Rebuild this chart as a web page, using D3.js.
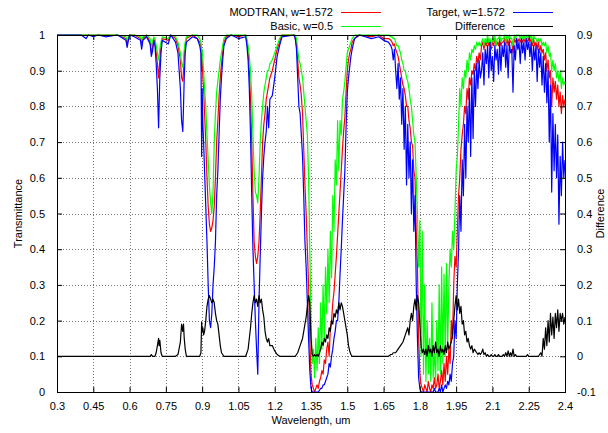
<!DOCTYPE html>
<html>
<head>
<meta charset="utf-8">
<script src="https://cdn.jsdelivr.net/npm/d3@7"></script>
<style>
  body { margin: 0; background: #fff; }
  svg text { font-family: "Liberation Sans", Arial, sans-serif; font-size: 11px; fill: #000; }
</style>
</head>
<body>
<svg id="chart" width="608" height="433"></svg>
<script>
// wavelength grid, um
var wavelength = [
  0.30,0.40,0.42,0.43,0.45,0.47,0.50,0.55,0.585,0.59,0.595,0.60,0.62,0.645,0.65,0.655,0.67,0.685,0.69,0.695,0.70,
  0.705,0.71,0.715,0.72,0.722,0.725,0.73,0.735,0.76,0.77,0.79,0.80,0.81,0.815,0.82,0.823,0.826,0.83,0.835,0.86,0.88,0.89,
  0.895,0.898,0.90,0.903,0.906,0.91,0.915,0.92,0.925,0.93,0.935,0.94,0.945,0.95,0.955,0.96,0.965,0.97,0.975,0.98,0.985,0.99,1.00,
  1.02,1.05,1.08,1.085,1.09,1.095,1.10,1.105,1.11,1.115,1.12,1.125,1.13,1.135,1.14,1.145,1.15,1.155,1.16,1.165,1.17,1.175,1.18,1.19,1.20,1.21,1.22,1.23,1.28,
  1.285,1.29,1.295,1.30,1.305,1.31,1.315,1.32,1.325,1.33,1.335,1.34,1.345,1.35,1.355,
  1.36,1.365,1.37,1.375,1.38,1.385,1.39,1.395,1.40,1.405,1.41,1.415,1.42,1.425,1.43,1.435,1.44,1.445,1.45,1.455,
  1.46,1.465,1.47,1.475,1.48,1.485,1.49,1.495,1.50,1.505,1.51,1.515,1.52,1.53,
  1.55,1.60,1.63,1.65,1.67,1.68,
  1.685,1.69,1.695,1.70,1.705,1.71,1.715,1.72,1.725,1.73,1.735,1.74,1.745,1.75,1.755,1.76,1.765,1.77,1.775,1.78,
  1.785,1.79,1.795,1.80,1.805,1.81,1.815,1.82,1.825,1.83,1.835,1.84,1.845,1.85,1.855,1.86,1.865,1.87,1.875,1.88,
  1.885,1.89,1.895,1.90,1.905,1.91,1.915,1.92,1.925,1.93,1.935,1.94,1.945,1.95,1.955,1.96,1.965,1.97,1.975,1.98,
  1.985,1.99,1.995,2.00,2.005,2.01,2.015,2.02,2.025,2.03,2.035,2.04,2.045,2.05,
  2.055,2.06,2.065,2.07,2.075,2.08,2.085,2.09,2.095,2.10,2.105,2.11,2.115,2.12,2.125,2.13,2.135,2.14,2.145,2.15,
  2.155,2.16,2.165,2.17,2.175,2.18,2.185,2.19,2.195,2.20,2.205,2.21,2.215,2.22,2.225,2.23,2.235,2.24,2.245,2.25,
  2.255,2.26,2.265,2.27,2.275,2.28,2.285,2.29,2.295,2.30,2.305,2.31,2.315,2.32,2.325,2.33,2.335,2.34,2.345,2.35,
  2.355,2.36,2.365,2.37,2.375,2.38,2.385,2.39,2.395,2.40
];

// MODTRAN, w=1.572 (red)
var modtran = [
  1,1,1,1,1,1,1,1,0.99,0.975,0.99,1,1,0.99,0.975,0.99,1,0.98,0.95,0.965,0.99,
  0.98,0.95,0.92,0.88,0.9,0.93,0.97,0.99,0.985,1,0.99,0.97,0.93,0.88,0.87,0.9,0.94,0.97,0.99,1,0.99,0.98,
  0.97,0.9,0.93,0.88,0.85,0.78,0.7,0.6,0.52,0.47,0.45,0.46,0.48,0.52,0.6,0.7,0.76,0.83,0.88,0.92,0.95,0.98,0.995,
  1,0.995,1,0.98,0.95,0.9,0.82,0.7,0.55,0.42,0.38,0.36,0.38,0.42,0.5,0.6,0.7,0.75,0.78,0.82,0.84,0.86,0.88,0.9,0.93,0.96,0.98,1,1,
  0.99,0.97,0.93,0.88,0.86,0.83,0.78,0.68,0.58,0.5,0.4,0.3,0.15,0.05,0.02,
  0.01,0,0.01,0.02,0.01,0.03,0.04,0.06,0.05,0.09,0.08,0.12,0.14,0.1,0.18,0.2,0.25,0.28,0.33,0.38,
  0.44,0.5,0.56,0.62,0.68,0.73,0.77,0.84,0.9,0.93,0.95,0.96,0.98,0.99,
  1,0.995,1,0.99,0.99,0.985,
  0.98,0.97,0.975,0.96,0.95,0.94,0.92,0.9,0.88,0.86,0.85,0.83,0.8,0.8,0.76,0.74,0.7,0.69,0.62,0.6,
  0.45,0.35,0.15,0.05,0.02,0.01,0,0.02,0.01,0,0.03,0.01,0,0.02,0.01,0.04,0.01,0.02,0.05,0.01,
  0.03,0.06,0.02,0.08,0.03,0.1,0.05,0.12,0.08,0.2,0.15,0.3,0.38,0.35,0.45,0.55,0.6,0.68,0.72,0.75,
  0.8,0.78,0.85,0.82,0.88,0.86,0.9,0.89,0.92,0.9,0.94,0.92,0.95,0.93,
  0.97,0.98,0.96,0.98,0.97,0.99,0.97,0.98,0.96,0.98,0.97,0.99,0.97,0.98,0.97,0.99,0.97,0.98,0.98,0.99,
  0.97,0.99,0.97,0.99,0.98,0.98,0.95,0.99,0.98,0.99,0.98,0.99,0.98,0.99,0.98,0.99,0.98,0.99,0.98,0.99,
  0.98,0.99,0.97,0.99,0.97,0.98,0.96,0.98,0.95,0.97,0.95,0.96,0.93,0.95,0.9,0.93,0.88,0.9,0.8,0.88,
  0.84,0.87,0.82,0.86,0.8,0.84,0.78,0.83,0.8,0.82
];

// Basic, w=0.5 (green)
var basic = [
  1,1,1,1,1,1,1,1,0.995,0.985,0.995,1,1,0.995,0.985,0.995,1,0.99,0.97,0.98,0.995,
  0.99,0.97,0.95,0.93,0.94,0.96,0.98,0.995,0.99,1,0.995,0.98,0.95,0.92,0.91,0.93,0.96,0.98,0.995,1,1,0.99,
  0.98,0.95,0.96,0.93,0.9,0.85,0.8,0.72,0.65,0.58,0.53,0.5,0.56,0.7,0.78,0.84,0.87,0.9,0.93,0.95,0.97,0.99,1,
  1,1,1,0.99,0.97,0.94,0.9,0.83,0.72,0.62,0.56,0.55,0.53,0.6,0.7,0.76,0.8,0.84,0.86,0.88,0.9,0.9,0.92,0.93,0.95,0.97,0.99,1,1,
  1,0.99,0.96,0.93,0.92,0.9,0.88,0.84,0.8,0.76,0.72,0.6,0.4,0.2,0.08,
  0.12,0.04,0.15,0.06,0.18,0.08,0.25,0.12,0.3,0.15,0.35,0.22,0.4,0.25,0.45,0.32,0.55,0.45,0.65,0.58,
  0.76,0.62,0.76,0.72,0.82,0.84,0.87,0.91,0.95,0.96,0.97,0.98,0.99,1,
  1,1,1,1,1,0.995,
  0.995,0.99,0.99,0.98,0.97,0.97,0.96,0.95,0.93,0.92,0.9,0.9,0.88,0.87,0.85,0.82,0.8,0.76,0.72,0.7,
  0.6,0.5,0.35,0.48,0.1,0.45,0.05,0.3,0.03,0.2,0.05,0.15,0.03,0.25,0.04,0.12,0.03,0.2,0.06,0.3,
  0.05,0.35,0.08,0.33,0.1,0.36,0.12,0.3,0.4,0.35,0.45,0.4,0.5,0.62,0.66,0.75,0.85,0.8,0.88,0.85,
  0.9,0.88,0.93,0.9,0.95,0.93,0.96,0.95,0.97,0.96,0.98,0.97,0.98,0.97,
  0.98,0.99,0.97,0.99,0.98,1,0.98,0.99,0.97,0.99,0.98,1,0.97,0.99,0.99,1,0.98,0.99,0.99,1,
  0.98,1,0.99,1,0.99,0.99,0.97,1,0.99,1,1,1,0.99,1,0.99,1,0.99,1,0.99,1,
  0.99,1,0.98,1,0.99,0.99,0.98,0.99,0.98,0.99,0.97,0.98,0.97,0.98,0.95,0.97,0.94,0.95,0.9,0.93,
  0.9,0.92,0.88,0.9,0.87,0.9,0.85,0.88,0.86,0.87
];

// Target, w=1.572 (blue)
var target = [
  1,1,0.99,1,0.995,1,0.995,1,0.985,0.965,0.985,1,0.995,0.985,0.96,0.985,0.995,0.975,0.94,0.955,0.985,
  0.97,0.92,0.85,0.74,0.8,0.88,0.95,0.985,0.975,1,0.98,0.95,0.85,0.76,0.73,0.8,0.88,0.95,0.98,0.995,0.99,0.97,
  0.95,0.66,0.85,0.75,0.7,0.62,0.52,0.42,0.3,0.2,0.18,0.22,0.3,0.35,0.42,0.55,0.62,0.72,0.82,0.88,0.93,0.97,0.99,
  1,0.99,0.995,0.97,0.93,0.85,0.72,0.55,0.4,0.3,0.2,0.12,0.05,0.25,0.38,0.5,0.6,0.66,0.7,0.73,0.8,0.74,0.82,0.83,0.88,0.94,0.97,0.995,1,
  0.99,0.96,0.88,0.8,0.78,0.72,0.66,0.55,0.42,0.35,0.25,0.15,0.06,0.01,0,
  0,0,0,0,0,0.005,0.01,0.01,0.02,0.02,0.03,0.04,0.05,0.08,0.07,0.1,0.12,0.15,0.17,0.2,
  0.2,0.25,0.33,0.4,0.48,0.55,0.62,0.74,0.84,0.88,0.91,0.94,0.96,0.99,
  1,0.99,0.995,0.985,0.98,0.97,
  0.96,0.93,0.96,0.9,0.85,0.92,0.82,0.88,0.75,0.85,0.68,0.8,0.58,0.75,0.6,0.7,0.5,0.65,0.45,0.55,
  0.3,0.15,0.04,0.01,0,0,0,0,0,0,0,0,0,0,0,0.01,0,0,0,0.01,
  0,0.02,0,0.01,0.02,0.01,0.03,0.02,0.05,0.03,0.08,0.1,0.2,0.15,0.3,0.4,0.55,0.45,0.65,0.55,
  0.75,0.6,0.8,0.7,0.85,0.66,0.88,0.71,0.9,0.8,0.92,0.85,0.93,0.88,
  0.9,0.95,0.86,0.96,0.92,0.97,0.88,0.98,0.9,0.94,0.87,0.97,0.93,0.96,0.89,0.98,0.9,0.97,0.94,0.98,
  0.91,0.97,0.88,0.98,0.95,0.96,0.84,0.97,0.93,0.99,0.96,0.98,0.92,0.99,0.95,0.98,0.93,0.99,0.96,0.98,
  0.94,0.98,0.9,0.97,0.93,0.97,0.87,0.96,0.91,0.95,0.86,0.94,0.84,0.92,0.81,0.9,0.7,0.86,0.56,0.78,
  0.62,0.75,0.6,0.72,0.47,0.66,0.55,0.7,0.6,0.65
];

// Difference (right axis)
var difference = [
  0,0,0,0,0,0,0,0,0,0,0,0,0,0,0,0,0,0,0.005,0,0,
  0,0.01,0.03,0.05,0.03,0.045,0.01,0,0,0,0,0.005,0.04,0.09,0.07,0.09,0.05,0.02,0,0,0,0,
  0.01,0.096,0.07,0.08,0.06,0.07,0.1,0.14,0.16,0.17,0.16,0.15,0.16,0.15,0.12,0.1,0.09,0.06,0.03,0.01,0.005,0,0,
  0,0,0,0.01,0.02,0.05,0.08,0.12,0.15,0.17,0.15,0.16,0.14,0.17,0.15,0.16,0.13,0.11,0.07,0.05,0.04,0.05,0.03,0.03,0.015,0.005,0,0,0,
  0,0.005,0.01,0.02,0.03,0.04,0.05,0.07,0.09,0.11,0.14,0.17,0.15,0.05,0.005,
  0,0.005,0,0.005,0,0.01,0.02,0.04,0.03,0.05,0.04,0.06,0.05,0.08,0.07,0.1,0.09,0.12,0.11,0.13,
  0.12,0.15,0.13,0.15,0.14,0.12,0.1,0.08,0.06,0.03,0.015,0.005,0,0,
  0,0,0,0,0,0.005,
  0.005,0.01,0.01,0.01,0.015,0.02,0.025,0.03,0.035,0.04,0.05,0.06,0.07,0.08,0.06,0.1,0.12,0.1,0.14,0.16,
  0.13,0.17,0.15,0.09,0.03,0.01,0.02,0.005,0.02,0,0.03,0.01,0.02,0,0.03,0.01,0.04,0.01,0.02,0,
  0.03,0.01,0.02,0.005,0.03,0.01,0.04,0.02,0.03,0.04,0.06,0.1,0.14,0.17,0.13,0.16,0.12,0.14,0.09,0.1,
  0.06,0.07,0.04,0.05,0.03,0.02,0.03,0.01,0.02,0.015,0.01,0.005,0.01,0.005,
  0.01,0.02,0.005,0.01,0,0.005,0,0,0.005,0,0,0.005,0,0,0.005,0,0,0,0.005,0,
  0.01,0,0.015,0,0.01,0,0.02,0,0.005,0,0,0,0,0,0,0,0,0,0.005,0,
  0,0,0,0,0,0,0,0,0.005,0.01,0,0.05,0.02,0.08,0.03,0.1,0.04,0.12,0.06,0.11,
  0.05,0.12,0.08,0.13,0.07,0.12,0.1,0.12,0.09,0.11
];

var xTicks = [0.3,0.45,0.6,0.75,0.9,1.05,1.2,1.35,1.5,1.65,1.8,1.95,2.1,2.25,2.4];
var yTicks = [0,0.1,0.2,0.3,0.4,0.5,0.6,0.7,0.8,0.9,1];
var y2Ticks = [-0.1,0,0.1,0.2,0.3,0.4,0.5,0.6,0.7,0.8,0.9];

var seriesNames = ["MODTRAN, w=1.572", "Basic, w=0.5", "Target, w=1.572", "Difference"];
var seriesColors = ["#ff0000", "#00ff00", "#0000ff", "#000000"];

var lens = [wavelength.length, modtran.length, basic.length, target.length, difference.length];
if (d3.min(lens) != d3.max(lens)) {
    throw new Error("array lengths differ: " + lens.join(","));
}

// plot box in pixels
var plotLeft = 57, plotRight = 565, plotTop = 35, plotBottom = 392;

var svg = d3.select("#chart");

var x = d3.scaleLinear().domain([0.3, 2.4]).range([plotLeft, plotRight]);
var y = d3.scaleLinear().domain([0, 1]).range([plotBottom, plotTop]);
var y2 = d3.scaleLinear().domain([-0.1, 0.9]).range([plotBottom, plotTop]);

// grid (dotted)
var grid = svg.append("g");
grid.selectAll("line.gx").data(xTicks.slice(1, -1)).enter().append("line")
    .attr("x1", function(d) { return Math.round(x(d)) + 0.5; })
    .attr("x2", function(d) { return Math.round(x(d)) + 0.5; })
    .attr("y1", plotTop)
    .attr("y2", plotBottom)
    .attr("stroke", "#777")
    .attr("stroke-width", 1)
    .attr("stroke-dasharray", "1,2");
grid.selectAll("line.gy").data(yTicks.slice(1, -1)).enter().append("line")
    .attr("x1", plotLeft)
    .attr("x2", plotRight)
    .attr("y1", function(d) { return Math.round(y(d)) + 0.5; })
    .attr("y2", function(d) { return Math.round(y(d)) + 0.5; })
    .attr("stroke", "#777")
    .attr("stroke-width", 1)
    .attr("stroke-dasharray", "1,2");

// series
svg.append("clipPath").attr("id", "plotClip")
    .append("rect")
    .attr("x", plotLeft).attr("y", plotTop - 1)
    .attr("width", plotRight - plotLeft).attr("height", plotBottom - plotTop + 1);

var idx = d3.range(wavelength.length);

function drawSeries(values, scale, color) {
    var line = d3.line()
        .x(function(i) { return x(wavelength[i]); })
        .y(function(i) { return scale(values[i]); });
    svg.append("path")
        .datum(idx)
        .attr("clip-path", "url(#plotClip)")
        .attr("fill", "none")
        .attr("stroke", color)
        .attr("stroke-width", 1.2)
        .attr("stroke-linejoin", "round")
        .attr("d", line);
}

drawSeries(modtran, y, seriesColors[0]);
drawSeries(basic, y, seriesColors[1]);
drawSeries(target, y, seriesColors[2]);
drawSeries(difference, y2, seriesColors[3]);

// axes with inward ticks
var fmt = function(d) { return String(d); };

svg.append("g")
    .attr("transform", "translate(0," + plotBottom + ")")
    .call(d3.axisBottom(x).tickValues(xTicks).tickFormat(fmt).tickSizeInner(-5).tickSizeOuter(0).tickPadding(10))
    .call(function(g) { g.select(".domain").remove(); });

svg.append("g")
    .attr("transform", "translate(0," + plotTop + ")")
    .call(d3.axisTop(x).tickValues(xTicks).tickFormat("").tickSizeInner(-5).tickSizeOuter(0))
    .call(function(g) { g.select(".domain").remove(); });

svg.append("g")
    .attr("transform", "translate(" + plotLeft + ",0)")
    .call(d3.axisLeft(y).tickValues(yTicks).tickFormat(fmt).tickSizeInner(-5).tickSizeOuter(0).tickPadding(12))
    .call(function(g) { g.select(".domain").remove(); });

svg.append("g")
    .attr("transform", "translate(" + plotRight + ",0)")
    .call(d3.axisRight(y2).tickValues(y2Ticks).tickFormat(fmt).tickSizeInner(-5).tickSizeOuter(0).tickPadding(12))
    .call(function(g) { g.select(".domain").remove(); });

svg.selectAll(".tick text").attr("font-family", null).attr("font-size", null);
svg.selectAll(".tick line").attr("stroke", "#000");

// frame
svg.append("rect")
    .attr("x", plotLeft + 0.5).attr("y", plotTop + 0.5)
    .attr("width", plotRight - plotLeft).attr("height", plotBottom - plotTop)
    .attr("fill", "none")
    .attr("stroke", "#000")
    .attr("stroke-width", 1);

// axis titles
svg.append("text")
    .attr("x", (plotLeft + plotRight) / 2).attr("y", 424)
    .attr("text-anchor", "middle")
    .text("Wavelength, um");

svg.append("text")
    .attr("transform", "translate(22," + ((plotTop + plotBottom) / 2) + ") rotate(-90)")
    .attr("text-anchor", "middle")
    .text("Transmittance");

svg.append("text")
    .attr("transform", "translate(604," + ((plotTop + plotBottom) / 2) + ") rotate(-90)")
    .attr("text-anchor", "middle")
    .text("Difference");

// legend, two columns
var legendPos = [[333, 12], [333, 26], [505, 12], [505, 26]];
for (var k = 0; k < seriesNames.length; k++) {
    var lx = legendPos[k][0], ly = legendPos[k][1];
    svg.append("text")
        .attr("x", lx).attr("y", ly)
        .attr("dy", "0.35em")
        .attr("text-anchor", "end")
        .text(seriesNames[k]);
    svg.append("line")
        .attr("x1", lx + 8).attr("x2", lx + 48)
        .attr("y1", ly + 0.5).attr("y2", ly + 0.5)
        .attr("stroke", seriesColors[k])
        .attr("stroke-width", 1.2);
}
</script>
</body>
</html>
